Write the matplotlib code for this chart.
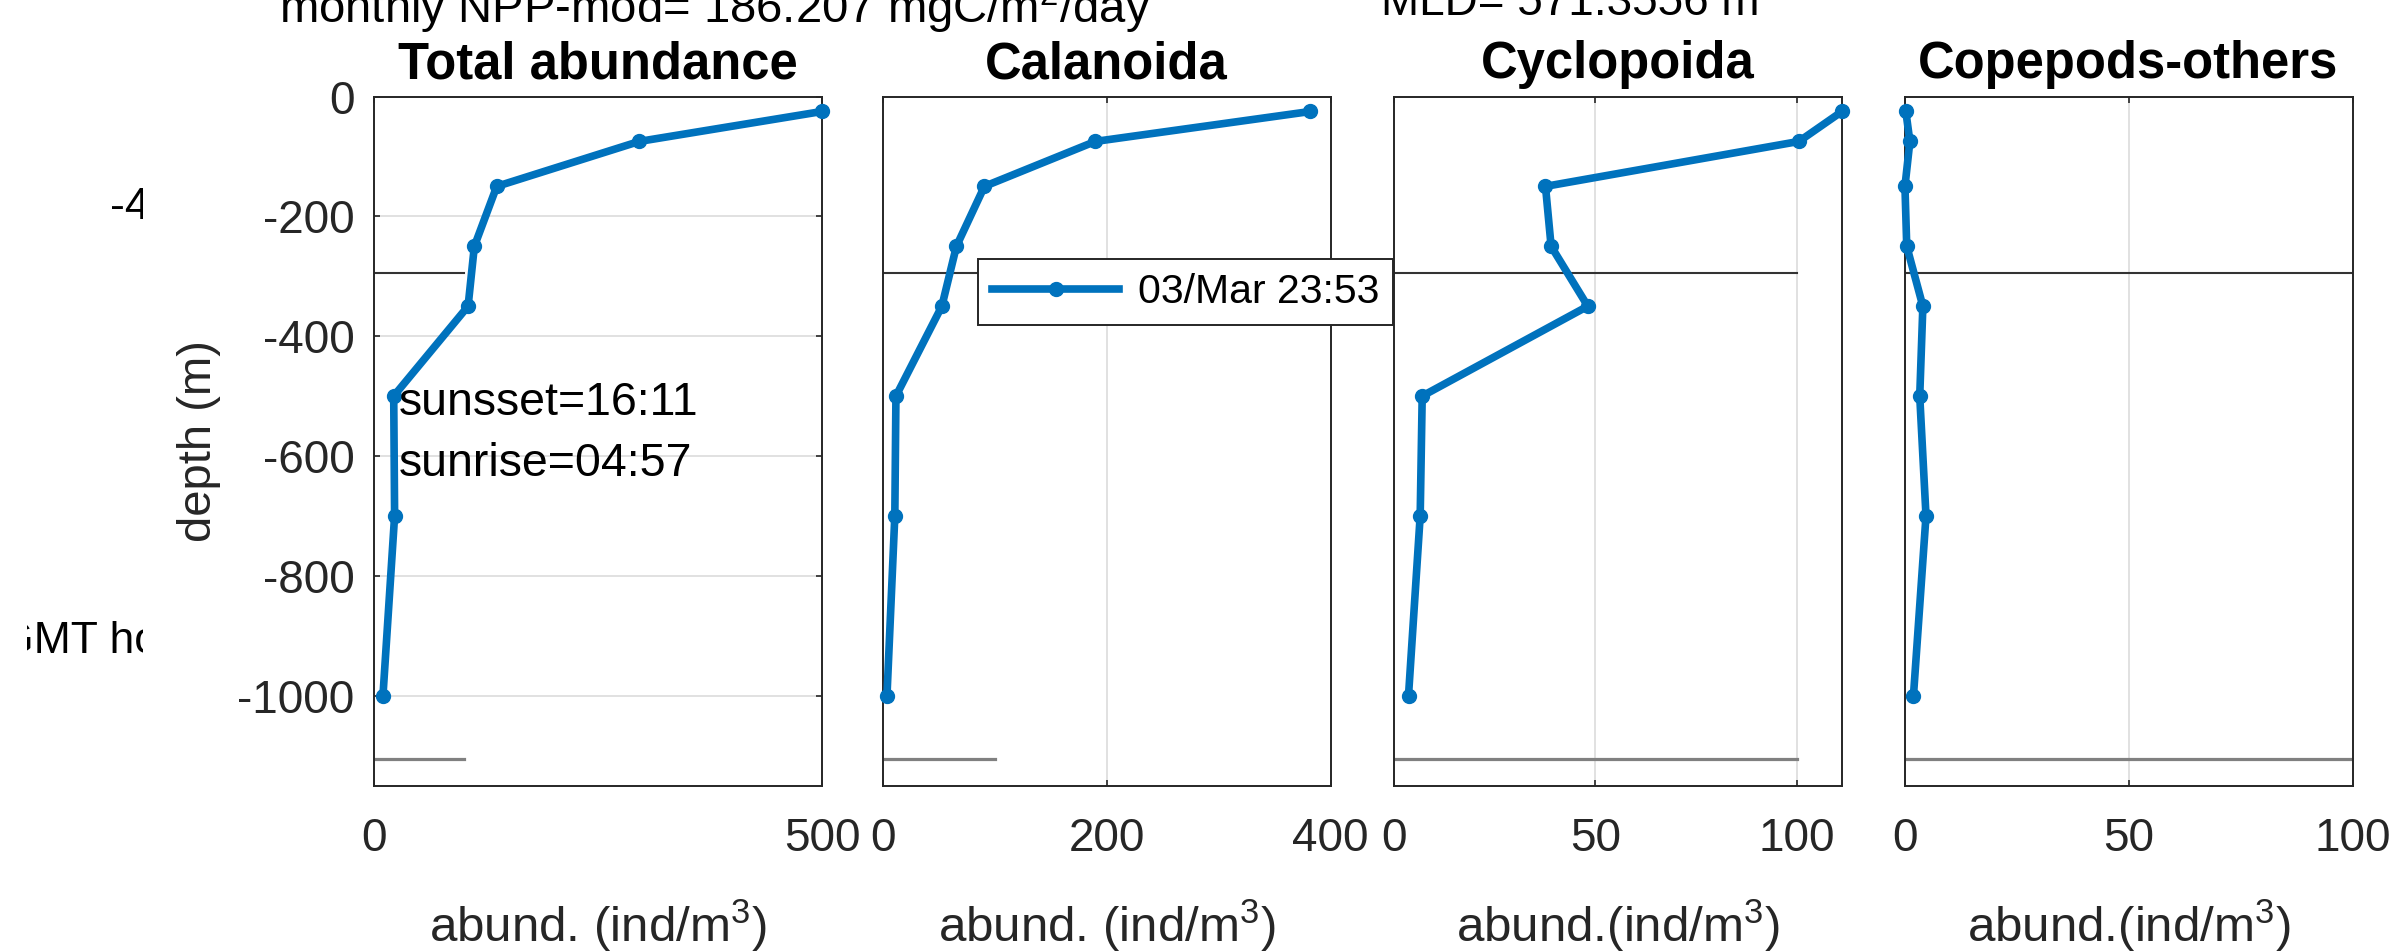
import matplotlib
matplotlib.use("Agg")
import matplotlib.pyplot as plt

# depth of the net samples (m) and abundance per group (ind/m3)
depths = [-25, -75, -150, -250, -350, -500, -700, -1000]
total = [500, 296, 137, 112, 105, 22, 23, 10]
calanoida = [382, 190, 91, 66, 53, 12, 11, 4]
cyclopoida = [111.2, 100.5, 37.6, 39.0, 48.1, 7.0, 6.5, 3.6]
others = [0.3, 1.2, 0.1, 0.5, 4.1, 3.4, 4.8, 2.0]

titles = ["Total abundance", "Calanoida", "Cyclopoida", "Copepods-others"]
xlabels = [r"abund. (ind/m$^3$)", r"abund. (ind/m$^3$)",
           r"abund.(ind/m$^3$)", r"abund.(ind/m$^3$)"]
xlims = [(0, 500), (0, 400), (0, 111.2), (0, 100)]
xticks = [[0, 500], [0, 200, 400], [0, 50, 100], [0, 50, 100]]
yticks = [0, -200, -400, -600, -800, -1000]

legend_label = "03/Mar 23:53"
npp_text = r"monthly NPP-mod= 186.207 mgC/m$^2$/day"
mld_text = "MLD= 571.3556 m"
sunset_text = "sunsset=16:11"
sunrise_text = "sunrise=04:57"

# reference lines drawn in every panel
ref_x = [0, 100]
mld_depth = -295
bottom_depth = -1105

BLUE = "#0072BD"
DARK = "#262626"

plt.rcParams["font.family"] = ["Liberation Sans", "DejaVu Sans"]
plt.rcParams["mathtext.default"] = "regular"
plt.rcParams["axes.unicode_minus"] = False

W, H = 2408, 952
fig = plt.figure(figsize=(W / 100, H / 100), dpi=100)

lefts = [374, 882.5, 1394, 1904.5]
ax_w = 448
ax_top, ax_bot = 96.5, 785.5

series = [total, calanoida, cyclopoida, others]
axes = []
for i, vals in enumerate(series):
    ax = fig.add_axes([lefts[i] / W, 1 - ax_bot / H, ax_w / W, (ax_bot - ax_top) / H])
    axes.append(ax)
    ax.plot(ref_x, [mld_depth, mld_depth], color="#333333", lw=1.5, zorder=2)
    ax.plot(ref_x, [bottom_depth, bottom_depth], color="#808080", lw=2.3, zorder=2)
    line, = ax.plot(vals, depths, color=BLUE, lw=5.5, marker="o", ms=10,
                    label=legend_label, zorder=3, clip_on=False)
    ax.set_xlim(*xlims[i])
    ax.set_ylim(-1150, 0)
    ax.set_xticks(xticks[i])
    ax.set_title(titles[i], fontsize=36.5, fontweight="bold", pad=13)
    ax.set_xlabel(xlabels[i], fontsize=35.5, color=DARK, labelpad=26)
    ax.grid(True, color="#dcdcdc", lw=1.2)
    ax.set_axisbelow(True)
    for s in ax.spines.values():
        s.set_color(DARK)
        s.set_linewidth(1.4)
    ax.tick_params(direction="in", length=4.5, width=1.2, top=True, right=True,
                   labelsize=33, labelcolor=DARK, color=DARK)
    ax.tick_params(axis="x", pad=23)
    if i == 0:
        ax.set_yticks(yticks)
        ax.set_ylabel("depth (m)", fontsize=34, color=DARK, labelpad=12)
        ax.tick_params(axis="y", pad=14)
    else:
        ax.set_yticks([])

ax1 = axes[0]
ax1.text(28, -532, sunset_text, fontsize=33.5, color="black", va="baseline")
ax1.text(28, -633, sunrise_text, fontsize=33.5, color="black", va="baseline")

fig.text(715 / W, 1 - 23 / H, npp_text, fontsize=34, ha="center", va="baseline")
fig.text(1570 / W, 1 - 15 / H, mld_text, fontsize=33, ha="center", va="baseline")

leg = fig.legend(handles=[line], loc="upper right",
                 bbox_to_anchor=(1393 / W, 1 - 259 / H), fontsize=29.5,
                 frameon=True, fancybox=False, framealpha=1, edgecolor=DARK,
                 borderpad=0.34, handlelength=3.1, handletextpad=0.45,
                 borderaxespad=0, numpoints=1)
leg.get_frame().set_linewidth(1.4)

# clipped fragments of a hidden panel on the far left
ax0 = fig.add_axes([27 / W, 0.1, (143 - 27) / W, 0.8])
ax0.set_axis_off()
ax0.set_xlim(27, 143)
ax0.set_ylim(0.9 * H, 0.1 * H)
ax0.text(110, 219, "-400", fontsize=32, va="baseline", clip_on=True)
ax0.text(-1, 653, "GMT hour", fontsize=32, va="baseline", clip_on=True)

fig.savefig("out.png", dpi=100)
